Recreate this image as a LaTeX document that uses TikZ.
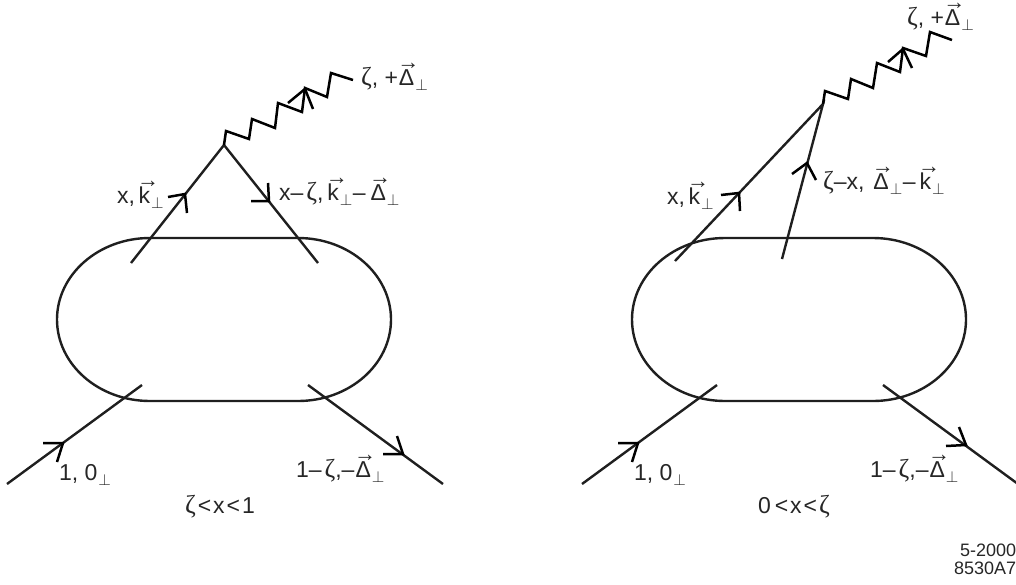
\documentclass[tikz,border=0pt]{standalone}
\usepackage{fix-cm}
\usepackage{fontspec}
\setmainfont{Liberation Sans}
\newfontfamily\zfont{Liberation Serif}
\newcommand{\zt}{{\zfont\fontsize{26}{26}\selectfont ζ}}
\newcommand{\arr}{\rlap{\kern-1.5pt\raisebox{15.5pt}{\fontsize{22}{22}\selectfont →}}}
\newcommand{\vk}{\arr k}
\newcommand{\vD}{\arr Δ}
\newcommand{\pp}{\kern1pt\raisebox{-2pt}{$_{\perp}$}}
\newcommand{\mn}{–}
\tikzset{
  x=1pt,y=-1pt,
  line/.style={line width=2.4pt,color=black!88,line cap=butt},
  head/.style={line width=2.5pt,color=black,line join=miter},
  zig/.style={line width=2.5pt,color=black,line join=miter},
  lab/.style={anchor=base west,inner sep=0pt,outer sep=0pt,text=black!85,font=\fontsize{23}{26}\selectfont},
  small/.style={anchor=base west,inner sep=0pt,outer sep=0pt,text=black!85,font=\fontsize{18}{20}\selectfont}
}
\begin{document}
\begin{tikzpicture}
\useasboundingbox (0,0) rectangle (1016,584);
\clip (0,0) rectangle (1016,584);
% LEFT
\coordinate (lv) at (224,145);
\coordinate (la) at (131,263);
\coordinate (lb) at (318,263);
\coordinate (lc) at (7,484);
\coordinate (ld) at (142,385);
\coordinate (le) at (308,385);
\coordinate (lf) at (443,484);
\coordinate (lz) at (353,80);
\draw[line] (150,238) -- (298,238) arc[start angle=-90,end angle=90,x radius=93,y radius=81.5] -- (150,401) arc[start angle=90,end angle=270,x radius=93,y radius=81.5];
\draw[line] (la) -- (lv) -- (lb);
\draw[line] (lc) -- (ld);
\draw[line] (le) -- (lf);
\draw[zig] (lv) -- (226,131) -- (249,139) -- (252,119) -- (275,128) -- (278,103) -- (302,112) -- (305,88) -- (327,97) -- (331,73) -- (lz);
\draw[head] (288,103) -- (305,89) -- (313,109);
\draw[head] (168,197) -- (185,194) -- (187,213);
\draw[head] (251,201) -- (269,201) -- (268,183);
\draw[head] (43,443) -- (63,443) -- (57,462);
\draw[head] (383,454) -- (403,454) -- (397,436);
\node[lab] (l1) at (361,85) {\zt, +\kern1pt\vD\pp};
\node[lab] (l2) at (117,203) {x,\,\vk\pp};
\node[lab] (l3) at (279,200) {x\mn\kern3pt\zt,\,\vk\pp\mn\kern5pt\vD\pp};
\node[lab] (l4) at (59,480) {1, 0\pp};
\node[lab] (l5) at (296,477) {1\mn\kern3pt\zt,\mn\kern1pt\vD\pp};
\node[lab] (l6) at (185,513) {\zt\kern2pt<\kern2pt x\kern2pt<\kern2pt 1};
% RIGHT
\coordinate (rv) at (823,104);
\coordinate (ra) at (675,261);
\coordinate (rb) at (782,259);
\coordinate (rc) at (582,484);
\coordinate (rd) at (717,385);
\coordinate (re) at (883,385);
\coordinate (rf) at (1018,484);
\coordinate (rz) at (952,40);
\draw[line] (725,238) -- (873,238) arc[start angle=-90,end angle=90,x radius=93,y radius=81.5] -- (725,401) arc[start angle=90,end angle=270,x radius=93,y radius=81.5];
\draw[line] (ra) -- (rv) -- (rb);
\draw[line] (rc) -- (rd);
\draw[line] (re) -- (rf);
\draw[zig] (rv) -- (825,91) -- (848,99) -- (851,79) -- (873,88) -- (877,63) -- (900,72) -- (903,48) -- (926,56) -- (930,32) -- (rz);
\draw[head] (888,62) -- (903,49) -- (912,68);
\draw[head] (721,195) -- (739,193) -- (740,211);
\draw[head] (792,174) -- (807,163) -- (816,180);
\draw[head] (618,443) -- (638,443) -- (632,462);
\draw[head] (946,446) -- (966,445) -- (959,427);
\node[lab] (r1) at (907,25) {\zt, +\kern1pt\vD\pp};
\node[lab] (r2) at (667,204) {x,\,\vk\pp};
\node[lab] (r3) at (823,189) {\zt\mn x,\kern9pt\vD\pp\mn\kern4pt\vk\pp};
\node[lab] (r4) at (634,480) {1, 0\pp};
\node[lab] (r5) at (870,477) {1\mn\kern3pt\zt,\mn\kern1pt\vD\pp};
\node[lab] (r6) at (758,513) {0\kern4pt<\kern2pt x\kern2pt<\kern2pt\zt};
\node[small] (s1) at (960,556) {5-2000};
\node[small] (s2) at (954,574) {8530A7};
\end{tikzpicture}
\end{document}
